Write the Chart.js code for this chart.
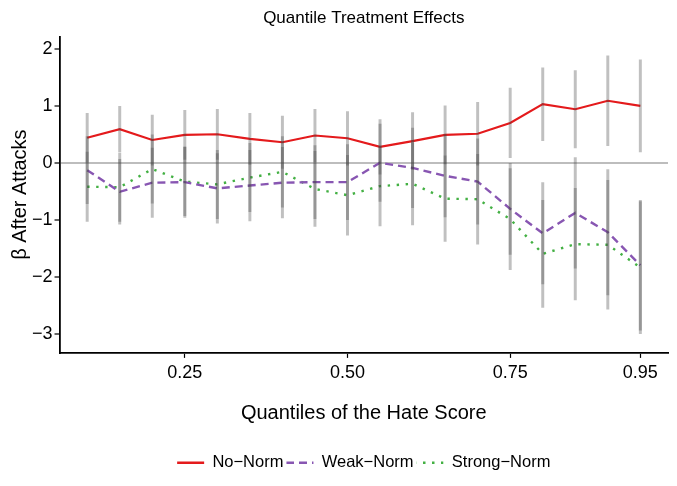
<!DOCTYPE html>
<html>
<head>
<meta charset="utf-8">
<script src="https://cdn.jsdelivr.net/npm/chart.js@4.4.1/dist/chart.umd.min.js"></script>
<style>
  body { margin: 0; background: #fff; }
</style>
</head>
<body>
<canvas id="qte" width="677" height="486"></canvas>
<script>
// quantiles of the hate score
var quantiles = [0.10, 0.15, 0.20, 0.25, 0.30, 0.35, 0.40, 0.45, 0.50, 0.55, 0.60, 0.65, 0.70, 0.75, 0.80, 0.85, 0.90, 0.95];

// point estimates
var noNorm     = [0.44, 0.59, 0.40, 0.49, 0.50, 0.42, 0.36, 0.48, 0.43, 0.28, 0.38, 0.49, 0.51, 0.70, 1.03, 0.94, 1.09, 1.00];
var weakNorm   = [-0.13, -0.51, -0.35, -0.34, -0.45, -0.40, -0.35, -0.34, -0.34, 0.00, -0.09, -0.23, -0.33, -0.81, -1.24, -0.88, -1.22, -1.80];
var strongNorm = [-0.42, -0.43, -0.11, -0.33, -0.38, -0.26, -0.16, -0.46, -0.57, -0.41, -0.37, -0.63, -0.64, -0.99, -1.60, -1.43, -1.44, -1.84];

// half width of the confidence intervals
var noNormCI     = [0.43, 0.40, 0.44, 0.43, 0.44, 0.45, 0.46, 0.46, 0.47, 0.48, 0.50, 0.51, 0.55, 0.61, 0.64, 0.68, 0.79, 0.81];
var weakNormCI   = [0.59, 0.57, 0.61, 0.62, 0.61, 0.62, 0.62, 0.64, 0.66, 0.68, 0.70, 0.72, 0.75, 0.80, 0.89, 0.97, 1.10, 1.14];
var strongNormCI = [0.61, 0.60, 0.60, 0.60, 0.60, 0.60, 0.62, 0.66, 0.70, 0.70, 0.72, 0.75, 0.79, 0.89, 0.94, 0.98, 1.13, 1.16];

var xTicks = [0.25, 0.50, 0.75, 0.95];
var yTicks = [-3, -2, -1, 0, 1, 2];

var seriesNames = ["No\u2212Norm", "Weak\u2212Norm", "Strong\u2212Norm"];

var FONT = "'Liberation Sans', Arial, Helvetica, sans-serif";

function points(values) {
  return quantiles.map(function (q, i) { return {x: q, y: values[i]}; });
}

function ranges(values, half) {
  return quantiles.map(function (q, i) { return {x: q, y: [values[i] - half[i], values[i] + half[i]]}; });
}

function errorBars(values, half) {
  return {
    type: "bar",
    data: ranges(values, half),
    backgroundColor: "rgba(70,70,70,0.34)",
    borderWidth: 0,
    barThickness: 2.3,
    grouped: false
  };
}

function minusLabel(v) {
  return v < 0 ? "\u2212" + Math.abs(v) : String(v);
}

// legend keys: a small repeating pattern so dashes and dots show in the legend
function keyFill(color, dash) {
  if (!dash) return color;
  var c = document.createElement("canvas");
  c.width = dash[0] + dash[1];
  c.height = 4;
  var g = c.getContext("2d");
  g.fillStyle = color;
  g.fillRect(0, 0, dash[0], 4);
  return g.createPattern(c, "repeat");
}

new Chart(document.getElementById("qte"), {
  type: "line",
  data: {
    datasets: [
      errorBars(noNorm, noNormCI),
      errorBars(weakNorm, weakNormCI),
      errorBars(strongNorm, strongNormCI),
      {
        label: seriesNames[0],
        data: points(noNorm),
        borderColor: "#e41a1c",
        backgroundColor: "#e41a1c",
        borderWidth: 2.1,
        pointRadius: 0
      },
      {
        label: seriesNames[1],
        data: points(weakNorm),
        borderColor: "#8856b2",
        backgroundColor: "#8856b2",
        borderWidth: 2.4,
        borderDash: [8, 5],
        pointRadius: 0
      },
      {
        label: seriesNames[2],
        data: points(strongNorm),
        borderColor: "#43b043",
        backgroundColor: "#43b043",
        borderWidth: 2.4,
        borderDash: [2.4, 6.6],
        pointRadius: 0
      }
    ]
  },
  options: {
    responsive: false,
    animation: false,
    layout: {padding: {left: 0, right: 9, top: 0, bottom: 5}},
    scales: {
      x: {
        type: "linear",
        min: 0.0575,
        max: 0.9925,
        offset: false,
        afterBuildTicks: function (axis) {
          axis.ticks = xTicks.map(function (v) { return {value: v}; });
        },
        ticks: {
          autoSkip: false,
          maxRotation: 0,
          padding: 4,
          color: "#000",
          font: {family: FONT, size: 18},
          callback: function (v) { return Number(v).toFixed(2); }
        },
        grid: {
          display: true,
          drawOnChartArea: false,
          offset: false,
          tickLength: 5,
          tickColor: "#000",
          tickWidth: 1.2
        },
        border: {display: true, color: "#000", width: 1.8},
        title: {
          display: true,
          text: "Quantiles of the Hate Score",
          color: "#000",
          font: {family: FONT, size: 20},
          padding: {top: 14, bottom: 26}
        }
      },
      y: {
        min: -3.34,
        max: 2.22,
        afterBuildTicks: function (axis) {
          axis.ticks = yTicks.map(function (v) { return {value: v}; });
        },
        ticks: {
          padding: 2,
          color: "#000",
          font: {family: FONT, size: 18},
          callback: minusLabel
        },
        grid: {
          color: function (ctx) {
            return ctx.tick && ctx.tick.value === 0 ? "#bdbdbd" : "rgba(0,0,0,0)";
          },
          lineWidth: 2,
          tickLength: 5,
          tickColor: "#000",
          tickWidth: 1.2
        },
        border: {display: true, color: "#000", width: 1.8},
        title: {
          display: true,
          text: "\u03b2 After Attacks",
          color: "#000",
          font: {family: FONT, size: 20, lineHeight: 1},
          padding: {top: 10, bottom: 0}
        }
      }
    },
    plugins: {
      title: {
        display: true,
        text: "Quantile Treatment Effects",
        fullSize: false,
        color: "#000",
        font: {family: FONT, size: 17, weight: "normal"},
        padding: {top: 8, bottom: 8}
      },
      legend: {
        position: "bottom",
        fullSize: false,
        labels: {
          boxWidth: 27,
          boxHeight: 2.4,
          padding: 3,
          color: "#000",
          font: {family: FONT, size: 16.5},
          generateLabels: function (chart) {
            var dashes = [null, [8, 5], [2.5, 6.5]];
            return chart.data.datasets.slice(3).map(function (ds, i) {
              return {
                text: ds.label,
                fillStyle: keyFill(ds.borderColor, dashes[i]),
                strokeStyle: "rgba(0,0,0,0)",
                lineWidth: 0,
                hidden: false,
                fontColor: "#000",
                datasetIndex: i + 3
              };
            });
          }
        }
      },
      tooltip: {enabled: false}
    }
  }
});
</script>
</body>
</html>
